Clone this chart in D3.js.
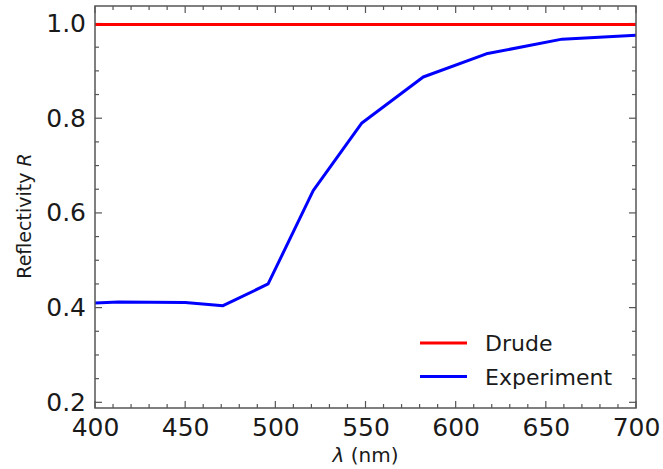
<!DOCTYPE html>
<html>
<head>
<meta charset="utf-8">
<script src="https://cdn.jsdelivr.net/npm/d3@7"></script>
<style>
  html, body { margin: 0; padding: 0; background: #fff; }
  svg { display: block; }
  text { font-family: "DejaVu Sans", sans-serif; fill: #1a1a1a; }
</style>
</head>
<body>
<svg id="chart" width="663" height="469"></svg>
<script>
// Wavelength samples (nm) and measured reflectivity
const wavelength = [400, 413, 450, 471, 496, 521, 548, 582, 617, 659, 700];
const experiment = [0.410, 0.412, 0.411, 0.404, 0.450, 0.647, 0.790, 0.887, 0.936, 0.967, 0.975];
// Drude model reflectivity (flat over the range)
const drudeWavelength = [400, 700];
const drude = [0.998, 0.998];

const xTicks = [400, 450, 500, 550, 600, 650, 700];
const yTicks = [0.2, 0.4, 0.6, 0.8, 1.0];

const seriesNames = ["Drude", "Experiment"];
const seriesColors = ["#ff0000", "#0000ff"];

const svg = d3.select("#chart");
const plot = { left: 95, right: 636, top: 6, bottom: 408 };

const x = d3.scaleLinear().domain([400, 700]).range([plot.left, plot.right]);
const y = d3.scaleLinear().domain([0.188, 1.037]).range([plot.bottom, plot.top]);

const frameColor = "#555";

// minor/major ticks pointing inward on all four sides
const xMinor = d3.range(400, 701, 10);
const yMinor = d3.range(0.2, 1.0001, 0.05).map(v => +v.toFixed(2));
const isMajorX = v => v % 50 === 0;
const isMajorY = v => Math.abs(v * 5 - Math.round(v * 5)) < 1e-6;

const ticks = svg.append("g").attr("stroke", frameColor).attr("stroke-width", 1.2);
xMinor.forEach(v => {
  const len = isMajorX(v) ? 7 : 4;
  ticks.append("line").attr("x1", x(v)).attr("x2", x(v)).attr("y1", plot.bottom).attr("y2", plot.bottom - len);
  ticks.append("line").attr("x1", x(v)).attr("x2", x(v)).attr("y1", plot.top).attr("y2", plot.top + len);
});
yMinor.forEach(v => {
  const len = isMajorY(v) ? 7 : 4;
  ticks.append("line").attr("y1", y(v)).attr("y2", y(v)).attr("x1", plot.left).attr("x2", plot.left + len);
  ticks.append("line").attr("y1", y(v)).attr("y2", y(v)).attr("x1", plot.right).attr("x2", plot.right - len);
});

// lines
const line = d3.line().x(d => x(d[0])).y(d => y(d[1]));
const drudeData = drudeWavelength.map((w, i) => [w, drude[i]]);
const expData = wavelength.map((w, i) => [w, experiment[i]]);

svg.append("path").datum(drudeData).attr("d", line)
  .attr("fill", "none").attr("stroke", seriesColors[0]).attr("stroke-width", 3);
svg.append("path").datum(expData).attr("d", line)
  .attr("fill", "none").attr("stroke", seriesColors[1]).attr("stroke-width", 3)
  .attr("stroke-linejoin", "round");

// frame
svg.append("rect")
  .attr("x", plot.left).attr("y", plot.top)
  .attr("width", plot.right - plot.left).attr("height", plot.bottom - plot.top)
  .attr("fill", "none").attr("stroke", frameColor).attr("stroke-width", 1.5);

// tick labels via axis generators (tick lines hidden; drawn above)
const xAxis = d3.axisBottom(x).tickValues(xTicks).tickSize(0).tickPadding(10).tickFormat(d3.format("d"));
const gx = svg.append("g").attr("transform", `translate(0,${plot.bottom})`).call(xAxis);
gx.select(".domain").remove();
gx.selectAll("text").attr("font-size", 25).attr("font-family", "DejaVu Sans").attr("fill", "#1a1a1a");

const yAxis = d3.axisLeft(y).tickValues(yTicks).tickSize(0).tickPadding(9).tickFormat(d3.format(".1f"));
const gy = svg.append("g").attr("transform", `translate(${plot.left},0)`).call(yAxis);
gy.select(".domain").remove();
gy.selectAll("text").attr("font-size", 25).attr("font-family", "DejaVu Sans").attr("fill", "#1a1a1a");

// axis titles
const xl = svg.append("text").attr("x", (plot.left + plot.right) / 2).attr("y", 462)
  .attr("text-anchor", "middle").attr("font-size", 20);
xl.append("tspan").attr("font-style", "italic").text("λ");
xl.append("tspan").text(" (nm)");

const yl = svg.append("text")
  .attr("transform", "translate(31,216) rotate(-90)")
  .attr("text-anchor", "middle").attr("font-size", 19);
yl.append("tspan").text("Reflectivity ");
yl.append("tspan").attr("font-style", "italic").text("R");

// legend
const legend = svg.append("g");
seriesNames.forEach((name, i) => {
  const ly = 343 + i * 33.5;
  legend.append("line").attr("x1", 420).attr("x2", 467).attr("y1", ly).attr("y2", ly)
    .attr("stroke", seriesColors[i]).attr("stroke-width", 3);
  legend.append("text").attr("x", 485).attr("y", ly + 8).attr("font-size", 22).text(name);
});
</script>
</body>
</html>
